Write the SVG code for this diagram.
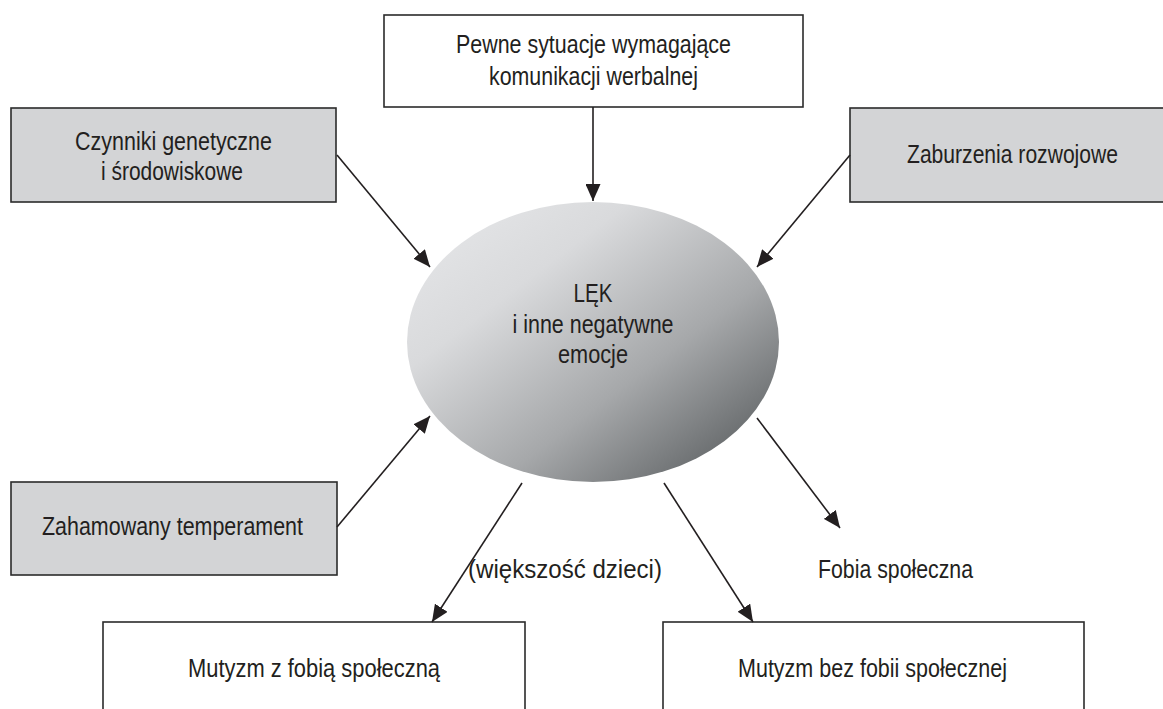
<svg xmlns="http://www.w3.org/2000/svg" width="1163" height="709" viewBox="0 0 1163 709">
<style>
  .box { stroke: #2b2b2b; stroke-width: 1.6; }
  .gray { fill: #d3d4d6; }
  .white { fill: #ffffff; }
  .t { font-family: "Liberation Sans", Arial, sans-serif; font-size: 26px; fill: #231f20; text-anchor: middle; }
  .conn line { stroke: #231f20; stroke-width: 1.6; marker-end: url(#arrow); }
</style>
<defs>
  <marker id="arrow" markerUnits="userSpaceOnUse" markerWidth="17" markerHeight="15" refX="17" refY="7.5" orient="auto">
    <path d="M0,0 L17,7.5 L0,15 z" fill="#231f20"/>
  </marker>
  <linearGradient id="eg" x1="0" y1="0" x2="1" y2="1">
    <stop offset="0" stop-color="#e8e9eb"/>
    <stop offset="0.3" stop-color="#d9dadc"/>
    <stop offset="0.62" stop-color="#a6a8aa"/>
    <stop offset="1" stop-color="#4b4f51"/>
  </linearGradient>
</defs>
<rect width="1163" height="709" fill="#ffffff"/>

<g id="node-sytuacje">
  <rect class="box white" x="384" y="15" width="419" height="92"/>
  <text class="t" x="593.5" y="53" textLength="275" lengthAdjust="spacingAndGlyphs">Pewne sytuacje wymagające</text>
  <text class="t" x="593.5" y="85" textLength="209" lengthAdjust="spacingAndGlyphs">komunikacji werbalnej</text>
</g>

<g id="node-czynniki">
  <rect class="box gray" x="11" y="108" width="325" height="94"/>
  <text class="t" x="173.5" y="150" textLength="197" lengthAdjust="spacingAndGlyphs">Czynniki genetyczne</text>
  <text class="t" x="172" y="180" textLength="142" lengthAdjust="spacingAndGlyphs">i środowiskowe</text>
</g>

<g id="node-zaburzenia">
  <rect class="box gray" x="850" y="108" width="314" height="94"/>
  <text class="t" x="1012.5" y="163" textLength="211" lengthAdjust="spacingAndGlyphs">Zaburzenia rozwojowe</text>
</g>

<g id="node-lek">
  <ellipse cx="593" cy="342" rx="186" ry="140" fill="url(#eg)"/>
  <text class="t" x="593" y="302" textLength="39" lengthAdjust="spacingAndGlyphs">LĘK</text>
  <text class="t" x="593" y="333" textLength="161" lengthAdjust="spacingAndGlyphs">i inne negatywne</text>
  <text class="t" x="593" y="363" textLength="70" lengthAdjust="spacingAndGlyphs">emocje</text>
</g>

<g id="node-zahamowany">
  <rect class="box gray" x="11" y="482" width="326" height="93"/>
  <text class="t" x="172.5" y="535" textLength="261" lengthAdjust="spacingAndGlyphs">Zahamowany temperament</text>
</g>

<g id="node-mutyzm-z">
  <rect class="box white" x="103" y="622" width="422" height="100"/>
  <text class="t" x="314" y="677" textLength="252" lengthAdjust="spacingAndGlyphs">Mutyzm z fobią społeczną</text>
</g>

<g id="node-mutyzm-bez">
  <rect class="box white" x="663" y="622" width="421" height="100"/>
  <text class="t" x="872.5" y="677" textLength="269" lengthAdjust="spacingAndGlyphs">Mutyzm bez fobii społecznej</text>
</g>

<g id="node-fobia">
  <text class="t" x="895.5" y="578" textLength="155" lengthAdjust="spacingAndGlyphs">Fobia społeczna</text>
</g>

<g id="connectors" class="conn">
  <line x1="593" y1="107" x2="593" y2="201"/>
  <line x1="337" y1="155" x2="430" y2="267"/>
  <line x1="850" y1="155" x2="757" y2="267"/>
  <line x1="337" y1="527" x2="430" y2="416"/>
  <line x1="757" y1="418" x2="840" y2="528"/>
  <line x1="522" y1="483" x2="432" y2="622"/>
  <line x1="664" y1="483" x2="753" y2="622"/>
  <text class="t" x="565" y="578" textLength="194" lengthAdjust="spacingAndGlyphs">(większość dzieci)</text>
</g>
</svg>
